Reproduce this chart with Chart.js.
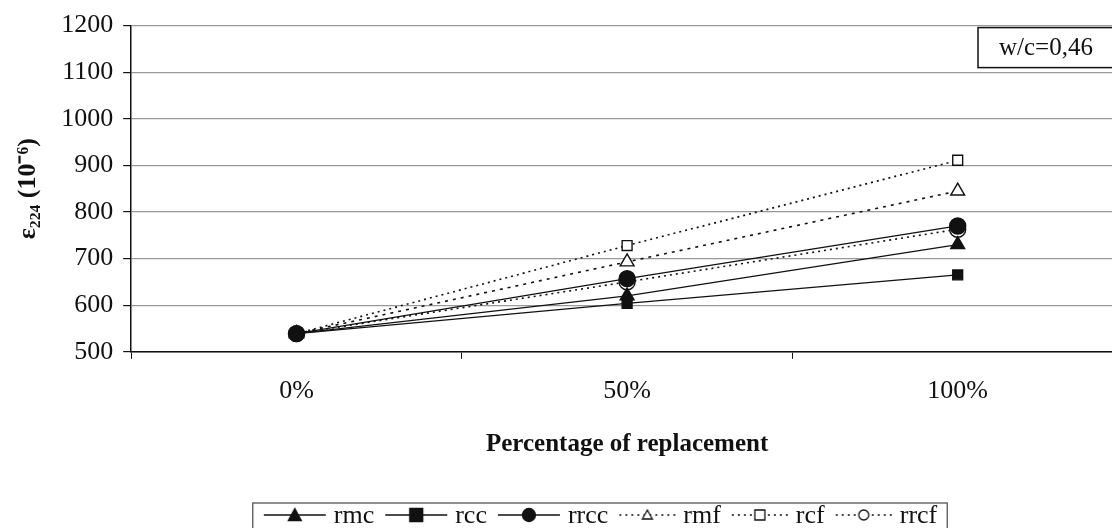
<!DOCTYPE html>
<html>
<head>
<meta charset="utf-8">
<script src="https://cdn.jsdelivr.net/npm/chart.js@4/dist/chart.umd.min.js"></script>
<style>
  html, body { margin: 0; padding: 0; background: #fff; overflow: hidden; }
  #wrap { width: 1112px; height: 528px; overflow: hidden; }
</style>
</head>
<body>
<!-- the plot frame runs a little past the right edge of the picture, as in the original -->
<div id="wrap"><canvas id="strainChart" width="1123" height="528"></canvas></div>
<script>
const categories = ["0%", "50%", "100%"];

const rmc = [539, 620, 730];
const rcc = [539, 604, 665];
const rrcc = [539, 657, 770];
const rmf = [539, 693, 845];
const rcf = [539, 728, 911];
const rrcf = [539, 650, 763];

const yTicks = [500, 600, 700, 800, 900, 1000, 1100, 1200];

const FONT = "'Liberation Serif', 'Times New Roman', serif";
const INK = "#111";

// legend sample: a short line with the marker in the middle
function legendIcon(marker, filled, dash) {
  const w = dash ? 58 : 64;
  const c = document.createElement("canvas");
  c.width = w;
  c.height = 20;
  const g = c.getContext("2d");
  const mid = w / 2;
  g.strokeStyle = INK;
  g.lineWidth = dash ? 1.6 : 1.4;
  g.setLineDash(dash ? [2, 4] : []);
  g.beginPath();
  g.moveTo(1, 10);
  g.lineTo(w - 1, 10);
  g.stroke();
  g.setLineDash([]);
  g.fillStyle = filled ? INK : "#fff";
  g.lineWidth = 1.3;
  const r = filled ? 6.5 : 5;
  g.beginPath();
  if (marker === "triangle") {
    g.moveTo(mid, 10 - r);
    g.lineTo(mid + r, 10 + r - 1);
    g.lineTo(mid - r, 10 + r - 1);
    g.closePath();
  } else if (marker === "rect") {
    g.rect(mid - r, 10 - r, r * 2, r * 2);
  } else {
    g.arc(mid, 10, r, 0, Math.PI * 2);
  }
  g.fill();
  g.stroke();
  return c;
}

function series(label, values, marker, filled, dash) {
  return {
    label: label,
    data: values,
    borderColor: INK,
    borderWidth: dash ? 1.6 : 1.3,
    borderDash: dash ? dash : [],
    pointStyle: marker,
    pointRadius: marker === "rect" ? 7 : 8,
    pointBackgroundColor: filled ? INK : "#fff",
    pointBorderColor: INK,
    pointBorderWidth: 1.4,
    tension: 0,
    fill: false,
    icon: legendIcon(marker, filled, dash)
  };
}

const datasets = [
  series("rmc", rmc, "triangle", true, null),
  series("rcc", rcc, "rect", true, null),
  series("rrcc", rrcc, "circle", true, null),
  series("rmf", rmf, "triangle", false, [3, 5]),
  series("rcf", rcf, "rect", false, [2, 4]),
  series("rrcf", rrcf, "circle", false, [2, 4])
];

const ratioBox = {
  id: "ratioBox",
  afterDraw(chart) {
    const { ctx, chartArea } = chart;
    const x = chartArea.right - 145;
    const y = chartArea.top + 2;
    ctx.save();
    ctx.fillStyle = "#fff";
    ctx.fillRect(x, y, 150, 40);
    ctx.strokeStyle = INK;
    ctx.lineWidth = 1.5;
    ctx.strokeRect(x, y, 150, 40);
    ctx.fillStyle = INK;
    ctx.font = "25px " + FONT;
    ctx.textAlign = "center";
    ctx.textBaseline = "middle";
    ctx.fillText("w/c=0,46", x + 68, y + 21);
    ctx.restore();
  }
};

// boxed legend under the axis title
const boxLegend = {
  id: "boxLegend",
  afterDraw(chart) {
    const ctx = chart.ctx;
    const ds = chart.data.datasets;
    const cy = 515;
    const cx = 600;
    ctx.save();
    ctx.font = "26px " + FONT;
    const items = ds.map(d => ({ d: d, tw: ctx.measureText(d.label).width }));
    const total = items.reduce((s, it) => s + it.d.icon.width + 7 + it.tw + 10, 0) - 10;
    let x = cx - total / 2;
    ctx.strokeStyle = "#555";
    ctx.lineWidth = 1.3;
    ctx.strokeRect(x - 10, cy - 12, total + 20, 40);
    ctx.fillStyle = INK;
    ctx.textBaseline = "middle";
    ctx.textAlign = "left";
    items.forEach(it => {
      ctx.drawImage(it.d.icon, x, cy - 10);
      x += it.d.icon.width + 7;
      ctx.fillText(it.d.label, x, cy + 1);
      x += it.tw + 10;
    });
    ctx.restore();
  }
};

new Chart(document.getElementById("strainChart").getContext("2d"), {
  type: "line",
  data: { labels: categories, datasets: datasets },
  plugins: [ratioBox, boxLegend],
  options: {
    responsive: false,
    animation: false,
    layout: { autoPadding: false, padding: { top: 22, right: 0, left: 10, bottom: 55 } },
    plugins: {
      tooltip: { enabled: false },
      legend: { display: false }
    },
    scales: {
      x: {
        offset: true,
        grid: {
          offset: true,
          drawOnChartArea: false,
          color: INK,
          tickLength: 7
        },
        border: { color: INK, width: 1.5 },
        ticks: { color: INK, font: { family: FONT, size: 26 }, padding: 17 },
        title: {
          display: true,
          text: "Percentage of replacement",
          color: INK,
          font: { family: FONT, size: 25, weight: "bold" },
          padding: { top: 6, bottom: 13 }
        }
      },
      y: {
        min: 500,
        max: 1200,
        afterBuildTicks(axis) {
          axis.ticks = yTicks.map(v => ({ value: v }));
        },
        grid: {
          color: "#999",
          lineWidth: 1.2,
          tickColor: INK,
          tickLength: 8
        },
        border: { color: INK, width: 1.5 },
        ticks: {
          color: INK,
          font: { family: FONT, size: 26 },
          padding: 10,
          callback: v => String(v)
        },
        title: {
          display: true,
          text: "ε₂₂₄ (10⁻⁶)",
          color: INK,
          font: { family: FONT, size: 26, weight: "bold" },
          padding: { top: 3, bottom: 7 }
        }
      }
    }
  }
});
</script>
</body>
</html>
